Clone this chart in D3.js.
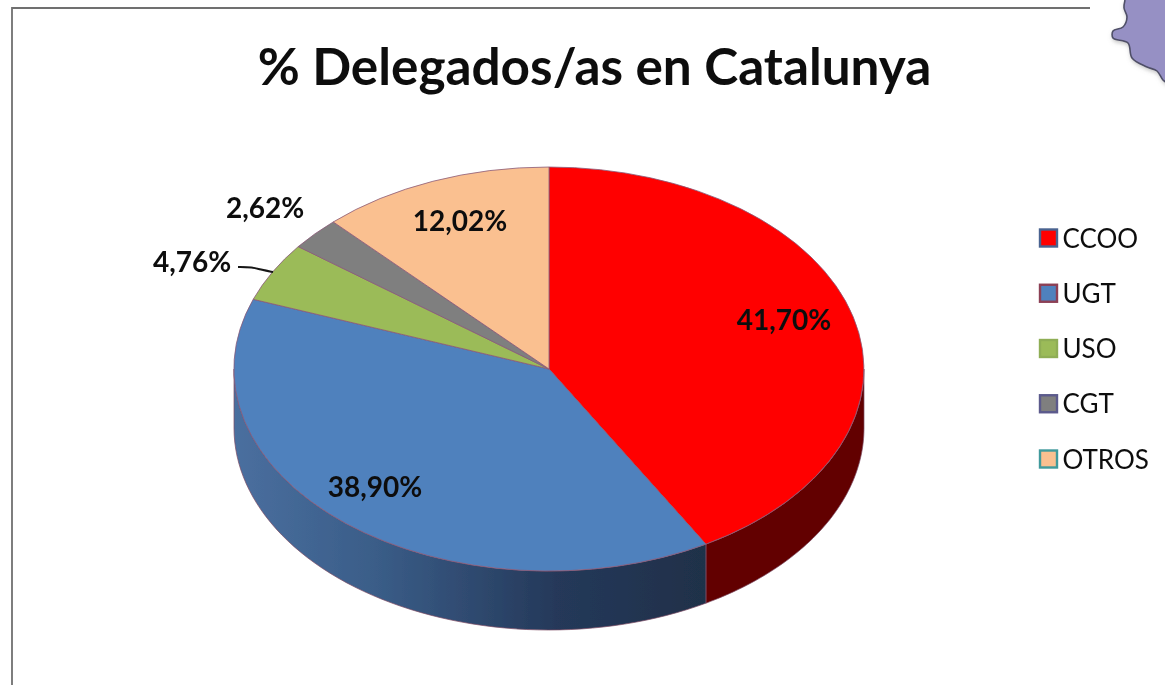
<!DOCTYPE html>
<html><head><meta charset="utf-8">
<script src="https://cdn.jsdelivr.net/npm/d3@7/dist/d3.min.js"></script>
<style>html,body{margin:0;padding:0;background:#fff}svg{display:block}text{font-family:Lato,"Open Sans",sans-serif;fill:#0e0e0e}</style>
</head><body><svg id="c" width="1165" height="685"></svg>
<script>
const categories=["CCOO","UGT","USO","CGT","OTROS"];
const values=[41.70,38.90,4.76,2.62,12.02];
const labels=["41,70%","38,90%","4,76%","2,62%","12,02%"];
const colors=["#ff0000","#4f81bd","#9bbb59","#7f7f7f","#fac090"];
const swatchStrokes=["#4a6390","#8c3f55","#8fae55","#5b5a8c","#3f9a9c"];
const labelPos=[[784,320],[375,487],[192,262],[265,208],[460,221]];
const title="% Delegados/as en Catalunya";
const mapOutline=[[1125,0],[1124,8],[1127,17],[1123,27],[1113,31],[1113,38],[1128,43],[1132,58],[1147,67],[1157,71],[1163,80],[1168,83],[1168,0]];

const svg=d3.select("#c");
const defs=svg.append("defs");
defs.append("filter").attr("id","soft").attr("x","-2%").attr("y","-2%").attr("width","104%").attr("height","104%")
  .append("feGaussianBlur").attr("stdDeviation",0.6);
const g=defs.append("linearGradient").attr("id","wall").attr("gradientUnits","userSpaceOnUse")
  .attr("x1",234).attr("x2",706).attr("y1",0).attr("y2",0);
g.append("stop").attr("offset",0).attr("stop-color","#4a6f9f");
g.append("stop").attr("offset",0.3).attr("stop-color","#3a5d88");
g.append("stop").attr("offset",0.68).attr("stop-color","#25395a");
g.append("stop").attr("offset",1).attr("stop-color","#1f3049");
const root=svg.append("g").attr("filter","url(#soft)");

// frame
root.append("path").attr("d",d3.line()([[12,685],[12,8],[1090,8]])).attr("fill","none").attr("stroke","#707070").attr("stroke-width",1.8);
// map fragment
const sh=defs.append("filter").attr("id","sh").attr("x","-20%").attr("y","-20%").attr("width","140%").attr("height","140%");
sh.append("feDropShadow").attr("dx",1).attr("dy",2).attr("stdDeviation",2).attr("flood-color","#999").attr("flood-opacity",0.6);
root.append("path").attr("d",d3.line().curve(d3.curveCatmullRom)(mapOutline)).attr("fill","#9690c4")
  .attr("stroke","#4f4f68").attr("stroke-width",1.6).attr("filter","url(#sh)");

root.append("text").attr("x",594.5).attr("y",85).attr("text-anchor","middle").attr("font-size",51.3).attr("font-weight",700).text(title);

// pie
const x=d3.scaleLinear().domain([-1,1]).range([234,864]);
const y=d3.scaleLinear().domain([-1,1]).range([167,571]);
const depth=59;
const pie=d3.pie().sort(null).value(d=>d)(values);
const pt=(a,dy=0)=>[x(Math.sin(a)),y(-Math.cos(a))+dy];
const wallColors=["#620000","url(#wall)"];
pie.forEach((s,i)=>{
  const a0=Math.max(s.startAngle,Math.PI/2),a1=Math.min(s.endAngle,1.5*Math.PI);
  if(a1<=a0)return;
  const as=d3.range(0,61).map(k=>a0+(a1-a0)*k/60);
  const poly=[...as.map(a=>pt(a)),...as.slice().reverse().map(a=>pt(a,depth))];
  root.append("path").attr("d",d3.line()(poly)+"Z").attr("fill",wallColors[i]||colors[i]).attr("stroke","#7d4a63").attr("stroke-width",0.7);
});
const arc=d3.arc().innerRadius(0).outerRadius(1);
root.append("g").attr("transform",`translate(${x(0)},${y(0)}) scale(${(x(1)-x(0))},${(y(1)-y(0))})`)
  .selectAll("path").data(pie).join("path").attr("d",arc).attr("fill",(d,i)=>colors[i])
  .attr("stroke","#8a5a78").attr("stroke-width",0.8).attr("vector-effect","non-scaling-stroke");

// leader
root.append("path").attr("d",d3.line().curve(d3.curveBasis)([[238,267],[252,267],[262,270],[273,272]])).attr("fill","none").attr("stroke","#141414").attr("stroke-width",2);
// labels
root.selectAll("text.l").data(labels).join("text").attr("class","l")
  .attr("x",(d,i)=>labelPos[i][0]).attr("y",(d,i)=>labelPos[i][1]+9.5).attr("text-anchor","middle")
  .attr("font-size",28).attr("font-weight",700).text(d=>d);
// legend
const ly=d3.scalePoint().domain(categories).range([238,459]);
const lg=root.selectAll("g.k").data(categories).join("g").attr("class","k").attr("transform",d=>`translate(1040,${ly(d)})`);
lg.append("rect").attr("x",0).attr("y",-8.5).attr("width",17).attr("height",17).attr("fill",(d,i)=>colors[i]).attr("stroke",(d,i)=>swatchStrokes[i]).attr("stroke-width",2.4);
lg.append("text").attr("x",22.5).attr("y",9.5).attr("font-size",26).text(d=>d);
</script></body></html>
